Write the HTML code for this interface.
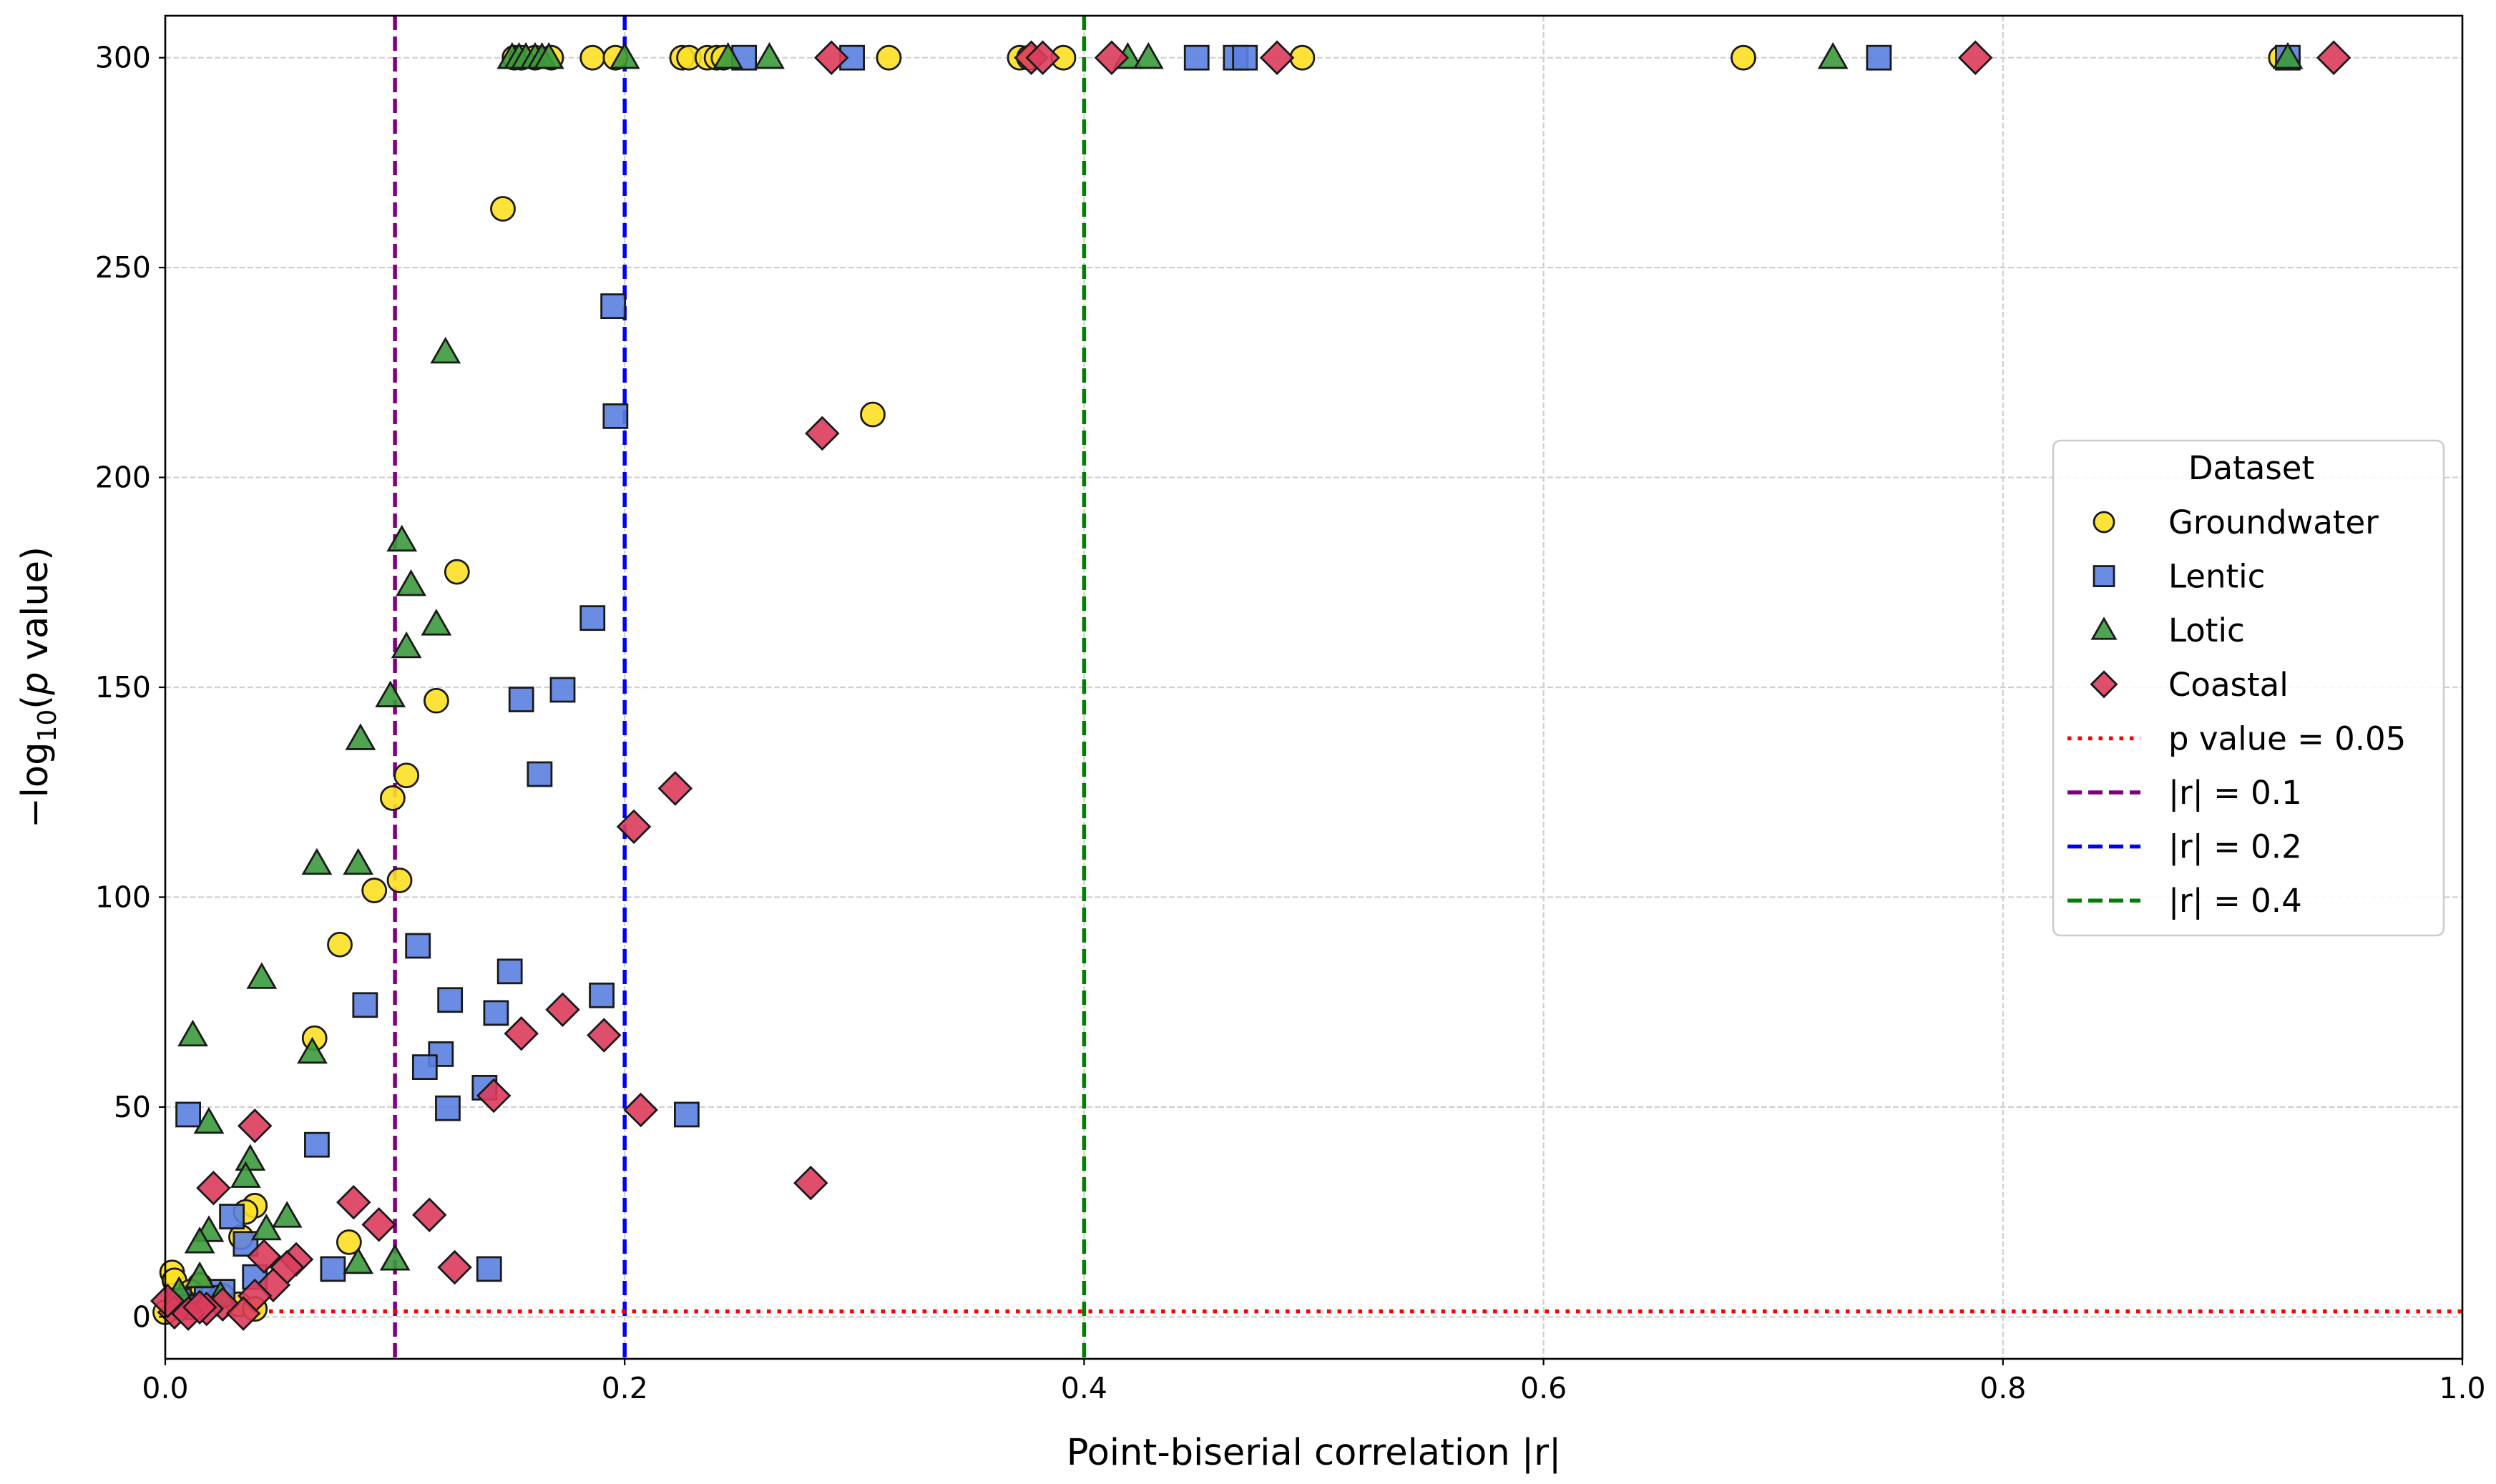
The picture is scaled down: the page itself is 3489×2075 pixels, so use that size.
<!DOCTYPE html>
<html><head><meta charset="utf-8"><style>
html,body{margin:0;padding:0;background:#fff;}
svg{display:block;font-family:"DejaVu Sans","Liberation Sans",sans-serif;}
</style></head><body>
<svg id="chart" width="3489" height="2075" viewBox="0 0 3489 2075" xmlns="http://www.w3.org/2000/svg">
<rect width="3489" height="2075" fill="#fff"/>
<g id="grid"></g><g id="refs"></g><g id="marks"></g><g id="axes"></g><g id="legend"></g>
</svg>
<script>
const xTicks=[0,0.2,0.4,0.6,0.8,1.0];
const xTickLabels=["0.0","0.2","0.4","0.6","0.8","1.0"];
const yTicks=[0,50,100,150,200,250,300];
const yTickLabels=["0","50","100","150","200","250","300"];
const gwX=[0.152,0.155,0.161,0.168,0.186,0.196,0.225,0.228,0.236,0.240,0.243,0.315,0.372,0.376,0.391,0.495,0.687,0.921,0.147,0.308,0.127,0.118,0.105,0.099,0.102,0.091,0.076,0.065,0.080,0.039,0.035,0.033,0.003,0.004,0.015,0.011,0.025,0.032,0.008,0.039,0.0];
const gwY=[300,300,300,300,300,300,300,300,300,300,300,300,300,300,300,300,300,300,264,215,177.5,146.8,129,123.6,104,101.6,88.7,66.4,17.8,26.5,25,19,10.6,8.7,7.6,6,5,3,3.8,1.9,1.1];
const leX=[0.252,0.299,0.449,0.466,0.470,0.746,0.924,0.195,0.196,0.186,0.173,0.155,0.163,0.110,0.150,0.087,0.124,0.144,0.190,0.120,0.113,0.139,0.123,0.227,0.010,0.066,0.029,0.035,0.073,0.141,0.039,0.025,0.018,0.006,0.011];
const leY=[300,300,300,300,300,300,300,240.8,214.6,166.5,149.4,147.1,129.3,88.4,82.3,74.3,75.5,72.4,76.6,62.6,59.5,54.6,49.7,48.2,48.2,41,23.9,17.4,11.4,11.4,9.5,6,4.5,3.8,2.3];
const loX=[0.151,0.154,0.157,0.161,0.164,0.167,0.200,0.245,0.263,0.419,0.428,0.726,0.924,0.122,0.103,0.107,0.118,0.105,0.098,0.085,0.066,0.084,0.042,0.012,0.064,0.019,0.037,0.035,0.053,0.044,0.019,0.015,0.084,0.100,0.015,0.006,0.024];
const loY=[300,300,300,300,300,300,300,300,300,300,300,300,300,229.8,185,174.4,165,159.6,147.9,137.7,108,108,80.8,67.1,63,46.3,37.5,33.4,23.9,20.9,20.5,17.8,12.9,13.7,9.5,6,5];
const coX=[0.290,0.377,0.382,0.412,0.484,0.788,0.944,0.286,0.222,0.204,0.173,0.155,0.191,0.143,0.207,0.039,0.281,0.021,0.082,0.093,0.115,0.057,0.043,0.053,0.126,0.047,0.039,0.025,0.018,0.004,0.010,0.034,0.015,0.001];
const coY=[300,300,300,300,300,300,300,210.5,125.9,116.8,73.2,67.5,67.1,52.7,49.3,45.5,31.9,30.7,27.3,22,24.3,13.7,14.4,11.8,11.8,7.6,5,3,1.9,1.1,0.8,0.8,2.3,3.8];
const refX=[0.1,0.2,0.4];
const pLine=1.301;

const L=231,R=3442,T=22,B=1900,XMIN=0,XMAX=1,YMIN=-10,YMAX=310;
const sx=v=>L+(v-XMIN)/(XMAX-XMIN)*(R-L);
const sy=v=>B-(v-YMIN)/(YMAX-YMIN)*(B-T);
const NS="http://www.w3.org/2000/svg";
function mk(tag,attrs,parent){const e=document.createElementNS(NS,tag);for(const k in attrs)e.setAttribute(k,attrs[k]);parent.appendChild(e);return e;}
const grid=document.getElementById('grid'),refs=document.getElementById('refs'),marks=document.getElementById('marks'),axes=document.getElementById('axes'),leg=document.getElementById('legend');

xTicks.forEach((t,i)=>{
  const g=mk('line',{x1:sx(t),x2:sx(t),y1:T,y2:B,stroke:'#d0d0d0','stroke-width':2.2,'stroke-dasharray':'8,3.5'},grid);
  
  
  const tk=mk('line',{x1:sx(t),x2:sx(t),y1:B,y2:B+9,stroke:'#000','stroke-width':2.2},axes);
  
  
  const tx=mk('text',{x:sx(t),y:B+55,'font-size':41,'text-anchor':'middle',fill:'#000'},axes);
  tx.textContent=xTickLabels[i];
  
  
});
yTicks.forEach((t,i)=>{
  const g=mk('line',{x1:L,x2:R,y1:sy(t),y2:sy(t),stroke:'#d0d0d0','stroke-width':2.2,'stroke-dasharray':'8,3.5'},grid);
  
  
  const tk=mk('line',{x1:L-9,x2:L,y1:sy(t),y2:sy(t),stroke:'#000','stroke-width':2.2},axes);
  
  
  const tx=mk('text',{x:L-20,y:sy(t)+14,'font-size':41,'text-anchor':'end',fill:'#000'},axes);
  tx.textContent=yTickLabels[i];
  
  
});

const refColors=['#800080','#0000ff','#008000'];
const refNames=['r-0.1-line','r-0.2-line','r-0.4-line'];
refX.forEach((v,i)=>{
  const l=mk('line',{x1:sx(v),x2:sx(v),y1:T,y2:B,stroke:refColors[i],'stroke-width':5.5,'stroke-dasharray':'20,9'},refs);
  
  
});
const pl=mk('line',{x1:L,x2:R,y1:sy(pLine),y2:sy(pLine),stroke:'#ff0000','stroke-width':5.5,'stroke-dasharray':'5.5,9'},refs);



function marker(type,cx,cy,parent,size){
  const s=size||16.5; let e;
  const st={stroke:'#1a1a1a','stroke-width':2.8,'fill-opacity':0.9};
  if(type==='circle'){e=mk('circle',Object.assign({cx:cx,cy:cy,r:s,fill:'#fde023'},st),parent);}
  else if(type==='square'){e=mk('rect',Object.assign({x:cx-s,y:cy-s,width:2*s,height:2*s,fill:'#5b7fe0'},st),parent);}
  else if(type==='tri'){const h=s*1.15;e=mk('polygon',Object.assign({points:`${cx},${cy-h} ${cx+h},${cy+h*0.75} ${cx-h},${cy+h*0.75}`,fill:'#3c9a3c'},st),parent);}
  else {const h=s*1.35;e=mk('polygon',Object.assign({points:`${cx},${cy-h} ${cx+h},${cy} ${cx},${cy+h} ${cx-h},${cy}`,fill:'#dc3c5c'},st),parent);}
  return e;
}
const series=[[gwX,gwY,'circle','groundwater-point'],[leX,leY,'square','lentic-point'],[loX,loY,'tri','lotic-point'],[coX,coY,'diamond','coastal-point']];
series.forEach(([xs,ys,type,name])=>{
  xs.forEach((x,i)=>{
    const e=marker(type,sx(x),sy(ys[i]),marks);
    
    
  });
});

const frame=mk('rect',{x:L,y:T,width:R-L,height:B-T,fill:'none',stroke:'#000','stroke-width':2.6},axes);


const xl=mk('text',{x:(L+R)/2,y:2048,'font-size':51,'text-anchor':'middle',fill:'#000'},axes);
xl.textContent='Point-biserial correlation |r|';


const yl=mk('text',{x:0,y:0,'font-size':51,'text-anchor':'middle',fill:'#000',transform:`translate(66,${(T+B)/2}) rotate(-90)`},axes);
yl.innerHTML='−log<tspan font-size="36" dy="12">10</tspan><tspan dy="-12">(</tspan><tspan font-style="italic">p</tspan> value)';



const lb=mk('rect',{x:2870,y:616,width:546,height:692,rx:10,fill:'#fff','fill-opacity':0.85,stroke:'#cccccc','stroke-width':2.5},leg);


const lt=mk('text',{x:3147,y:670,'font-size':45,'text-anchor':'middle',fill:'#000'},leg);
lt.textContent='Dataset';


const legRows=[['circle','Groundwater'],['square','Lentic'],['tri','Lotic'],['diamond','Coastal'],['#ff0000','p value = 0.05'],['#800080','|r| = 0.1'],['#0000ff','|r| = 0.2'],['#008000','|r| = 0.4']];
legRows.forEach(([k,label],i)=>{
  const y=730+i*75.6;
  const g=mk('g',{},leg);
  
  
  if(k.startsWith('#')){
    mk('line',{x1:2890,x2:2992,y1:y,y2:y,stroke:k,'stroke-width':5.5,'stroke-dasharray':k==='#ff0000'?'5.5,9':'20,9'},g);
  } else marker(k,2941,y,g,k==='diamond'?13:14);
  const t=mk('text',{x:3031,y:y+16,'font-size':45,fill:'#000'},g);
  t.textContent=label;
});
</script>
</body></html>
